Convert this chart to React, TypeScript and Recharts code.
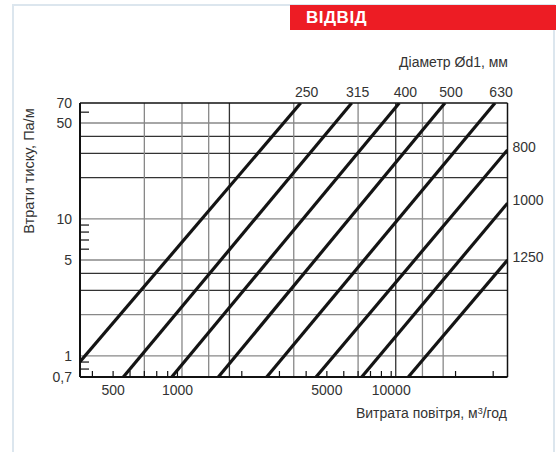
import React from "react";
import { LineChart, Line, XAxis, YAxis, ReferenceLine } from "recharts";

// diameters Ød1, mm
const diameters = ["250", "315", "400", "500", "630", "800", "1000", "1250"];

// line end points (airflow m³/h, loss Pa/m)
const flowStart = [350, 558, 940, 1553, 2615, 4449, 7277, 12020];
const lossStart = [0.905, 0.7, 0.7, 0.7, 0.7, 0.7, 0.7, 0.7];
const flowEnd = [3772, 6535, 10913, 17850, 30600, 35000, 35000, 35000];
const lossEnd = [70, 70, 70, 70, 70, 31.8, 13, 5.0];

const xTicks = [500, 1000, 5000, 10000];
const yTicks = [0.7, 1, 5, 10, 50, 70];
const xGrid = [700, 1050, 1400, 1750, 3500, 7000, 10500, 14000, 17500];
const yGrid = [1, 2, 3, 4, 5, 10, 20, 30, 40, 50];
const xMinor = [400, 500, 600, 700, 800, 900, 1000, 2000, 3000, 4000, 5000, 6000, 7000, 8000, 9000, 10000, 20000, 30000];
const yMinor = [0.8, 0.9, 6, 7, 8, 9, 60];

// grid lines printed darker in the original
const xGridDark = [1750, 10500];
const yGridDark = [40, 30, 20, 4, 3];

const X_DOMAIN = [350, 35000];
const Y_DOMAIN = [0.7, 70];

const FONT = "'Liberation Sans', Arial, sans-serif";
const TEXT = "#333";

const series = diameters.map((d, i) => ({
  name: d,
  data: [
    { q: flowStart[i], dp: lossStart[i] },
    { q: flowEnd[i], dp: lossEnd[i] },
  ],
}));

const lineLabel = (name: string) => (props: any) => {
  const { x, y, index, value } = props;
  if (index !== 1) return null;
  if (value >= Y_DOMAIN[1]) {
    return (
      <text x={x + 6} y={y - 6} textAnchor="middle" fontSize={14} fill={TEXT} fontFamily={FONT}>
        {name}
      </text>
    );
  }
  return (
    <text x={x + 5} y={y + 2} textAnchor="start" fontSize={14} fill={TEXT} fontFamily={FONT}>
      {name}
    </text>
  );
};

const noLabel = () => <g />;

export default function App() {
  return (
    <div style={{ position: "absolute", left: 0, top: 0, width: 558, height: 452, overflow: "hidden", background: "#fff", fontFamily: FONT }}>
      <div style={{ position: "absolute", left: 12, top: 4, width: 539, height: 470, border: "2px solid #dce6ee" }} />
      <div style={{ position: "absolute", left: 290, top: 5, width: 266, height: 25, background: "#ed1c24", color: "#fff", fontWeight: 700, fontSize: 17, lineHeight: "26px", paddingLeft: 16, boxSizing: "border-box", letterSpacing: 0.5 }}>
        ВІДВІД
      </div>
      <div style={{ position: "absolute", right: 50, top: 54, fontSize: 14, color: TEXT, whiteSpace: "nowrap" }}>
        Діаметр Ød1, мм
      </div>
      <div style={{ position: "absolute", right: 51, top: 405, fontSize: 14, color: TEXT, whiteSpace: "nowrap" }}>
        Витрата повітря, м<sup style={{ fontSize: 9, verticalAlign: "top", lineHeight: "12px" }}>3</sup>/год
      </div>
      <div style={{ position: "absolute", left: 29, top: 171, fontSize: 14.5, color: TEXT, whiteSpace: "nowrap", transform: "translate(-50%, -50%) rotate(-90deg)" }}>
        Втрати тиску, Па/м
      </div>
      <div style={{ position: "absolute", left: 0, top: 0 }}>
        <LineChart width={558} height={452} margin={{ top: 103, right: 50.5, bottom: 45, left: 0 }}>
          <XAxis
            dataKey="q"
            type="number"
            scale="log"
            domain={X_DOMAIN}
            allowDataOverflow
            ticks={xTicks}
            interval={0}
            height={30}
            tickLine={false}
            axisLine={{ stroke: "#111", strokeWidth: 2 }}
            tick={{ fontSize: 14, fill: TEXT, fontFamily: FONT }}
          />
          <XAxis
            xAxisId="minor"
            dataKey="q"
            type="number"
            scale="log"
            domain={X_DOMAIN}
            allowDataOverflow
            ticks={xMinor}
            interval={0}
            mirror
            tick={noLabel}
            tickSize={6}
            axisLine={false}
            tickLine={{ stroke: "#111", strokeWidth: 1.2 }}
          />
          <YAxis
            dataKey="dp"
            type="number"
            scale="log"
            domain={Y_DOMAIN}
            allowDataOverflow
            ticks={yTicks}
            interval={0}
            width={80}
            tickLine={false}
            axisLine={{ stroke: "#111", strokeWidth: 2 }}
            tickFormatter={(v: number) => String(v).replace(".", ",")}
            tick={{ fontSize: 14, fill: TEXT, fontFamily: FONT }}
          />
          <YAxis
            yAxisId="minor"
            dataKey="dp"
            type="number"
            scale="log"
            domain={Y_DOMAIN}
            allowDataOverflow
            ticks={yMinor}
            interval={0}
            mirror
            tick={noLabel}
            tickSize={9}
            axisLine={false}
            tickLine={{ stroke: "#111", strokeWidth: 1.2 }}
          />
          {yGrid.map((v) => (
            <ReferenceLine key={"h" + v} y={v} stroke={yGridDark.includes(v) ? "#333" : "#888"} strokeWidth={1.3} />
          ))}
          {xGrid.map((v) => (
            <ReferenceLine key={"v" + v} x={v} stroke={xGridDark.includes(v) ? "#333" : "#888"} strokeWidth={1.3} />
          ))}
          <ReferenceLine y={Y_DOMAIN[1]} stroke="#111" strokeWidth={1.5} />
          <ReferenceLine x={X_DOMAIN[1]} stroke="#111" strokeWidth={1.5} />
          {series.map((s) => (
            <Line
              key={s.name}
              data={s.data}
              dataKey="dp"
              type="linear"
              stroke="#141414"
              strokeWidth={3.2}
              dot={false}
              activeDot={false}
              isAnimationActive={false}
              label={lineLabel(s.name)}
            />
          ))}
        </LineChart>
      </div>
    </div>
  );
}
